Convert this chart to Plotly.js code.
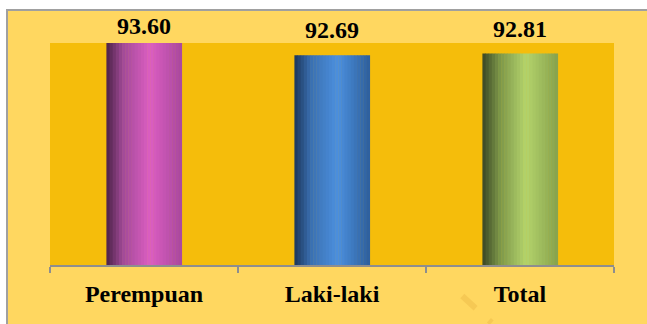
<!DOCTYPE html>
<html>
<head>
<meta charset="utf-8">
<script src="https://cdn.plot.ly/plotly-3.0.1.min.js"></script>
<style>
  html, body { margin: 0; padding: 0; background: #ffffff; width: 647px; height: 324px; overflow: hidden; }
  #frame { position: absolute; left: 6px; top: 9px; width: 641px; height: 315px;
           border-left: 2px solid #a0a0a0; border-top: 2px solid #a0a0a0; background: #FFD760; }
  #chart { position: absolute; left: 0; top: 0; width: 641px; height: 315px; }
</style>
</head>
<body>
<div id="frame"><div id="chart"></div></div>
<script>
// ---- data ----
const categories = ["Perempuan", "Laki-laki", "Total"];
const values = [93.60, 92.69, 92.81];
const valueLabels = ["93.60", "92.69", "92.81"];

// ---- style: cylinder shading colours per category ----
const darkColors  = ["#4a2246", "#1c3658", "#3a4624"];
const midColors   = ["#a24a98", "#3a70b2", "#7a9448"];
const lightColors = ["#dc5ec2", "#4c90de", "#b4d46c"];
const rightColors = ["#a8489e", "#2e5f9c", "#86a24e"];
// label offsets above the bar tops (px), as placed in the original
const labelShift = [2, 10, 10];

function hex2rgb(h){ return [parseInt(h.slice(1,3),16), parseInt(h.slice(3,5),16), parseInt(h.slice(5,7),16)]; }
function mix(a,b,t){ const A=hex2rgb(a),B=hex2rgb(b); return "rgb("+A.map((v,i)=>Math.round(v+(B[i]-v)*t)).join(",")+")"; }
function shade(i,t){
  if (t < 0.22) return mix(darkColors[i], midColors[i], t/0.22);
  if (t < 0.58) return mix(midColors[i], lightColors[i], (t-0.22)/0.36);
  return mix(lightColors[i], rightColors[i], (t-0.58)/0.42);
}

const FONT = "Times New Roman, Liberation Serif, DejaVu Serif, serif";
const barWidth = 0.4;
const N = 24;
const stripW = barWidth / N;
const traces = [];
for (let s = 0; s < N; s++) {
  const t = (s + 0.5) / N;
  traces.push({
    type: "bar",
    x: categories,
    y: values,
    width: stripW * 1.15,
    offset: -barWidth/2 + s*stripW,
    marker: { color: categories.map((c,i)=>shade(i,t)), line: { width: 0 } },
    hoverinfo: "skip",
    showlegend: false
  });
}

const annotations = categories.map((c, i) => ({
  x: c, y: values[i], xref: "x", yref: "y",
  text: "<b>" + valueLabels[i] + "</b>",
  showarrow: false,
  yanchor: "bottom",
  xanchor: "center",
  yshift: labelShift[i],
  font: { family: FONT, size: 24, color: "#000000" }
}));

const layout = {
  width: 641, height: 315,
  margin: { l: 42, r: 35, t: 32, b: 61 },
  paper_bgcolor: "#FFD760",
  plot_bgcolor: "#F5BD0B",
  barmode: "overlay",
  showlegend: false,
  font: { family: FONT },
  xaxis: {
    type: "category",
    showgrid: false,
    showline: true,
    linecolor: "#8e8e8e",
    linewidth: 2,
    ticks: "outside",
    tickson: "boundaries",
    ticklen: 6,
    tickwidth: 1.5,
    tickcolor: "#8e8e8e",
    tickfont: { family: FONT, size: 24, color: "#000000" },
    tickvals: categories,
    ticktext: categories.map(c => "<b>" + c + "</b>"),
    ticklabelstandoff: 6,
    zeroline: false
  },
  yaxis: {
    range: [77, 93.6],
    visible: false,
    showgrid: false,
    zeroline: false,
    fixedrange: true
  },
  annotations: annotations,
  shapes: [
    { type: "line", xref: "paper", yref: "paper", x0: 0.731, y0: -0.14, x1: 0.783, y1: -0.26,
      line: { color: "rgba(235,185,70,0.45)", width: 6, dash: "dash" } }
  ]
};

Plotly.newPlot("chart", traces, layout, { staticPlot: true, displayModeBar: false });
</script>
</body>
</html>
